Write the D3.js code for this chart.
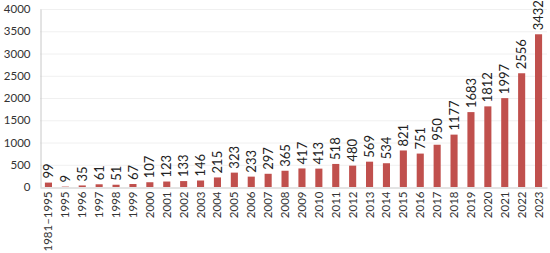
<!DOCTYPE html>
<html>
<head>
<meta charset="utf-8">
<script src="https://cdn.jsdelivr.net/npm/d3@7"></script>
<style>
  body { margin: 0; background: #fff; }
  text { font-family: Lato, "Open Sans", sans-serif; }
</style>
</head>
<body>
<svg id="chart"></svg>
<script>
// categories and counts
var years = ["1981–1995","1995","1996","1997","1998","1999","2000","2001","2002","2003",
  "2004","2005","2006","2007","2008","2009","2010","2011","2012","2013",
  "2014","2015","2016","2017","2018","2019","2020","2021","2022","2023"];
var counts = [99,9,35,61,51,67,107,123,133,146,
  215,323,233,297,365,417,413,518,480,569,
  534,821,751,950,1177,1683,1812,1997,2556,3432];
var yTicks = [0,500,1000,1500,2000,2500,3000,3500,4000];

var width = 550, height = 253;
var margin = {top: 9, right: 3, bottom: 66, left: 40};

var svg = d3.select("#chart").attr("width", width).attr("height", height);

var x = d3.scaleBand()
    .domain(years)
    .range([margin.left, width - margin.right])
    .paddingInner(0.58)
    .paddingOuter(0.29);

var y = d3.scaleLinear()
    .domain([0, 4000])
    .range([height - margin.bottom, margin.top]);

// faint gridlines
svg.append("g").selectAll("line")
    .data(yTicks.slice(1))
    .enter().append("line")
    .attr("x1", margin.left).attr("x2", width - margin.right)
    .attr("y1", function(d) { return y(d) + 0.5; })
    .attr("y2", function(d) { return y(d) + 0.5; })
    .attr("stroke", "#f0f0f0");

// y axis
var yAxis = svg.append("g")
    .attr("transform", "translate(" + (margin.left + 0.5) + ",0)")
    .call(d3.axisLeft(y).tickValues(yTicks).tickFormat(d3.format("d")).tickSize(0).tickPadding(10));
yAxis.select(".domain").attr("stroke", "#c8c8c8");
yAxis.selectAll("text").attr("font-size", 11.5).attr("fill", "#333");

// bars
svg.append("g").selectAll("rect")
    .data(counts)
    .enter().append("rect")
    .attr("x", function(d, i) { return x(years[i]); })
    .attr("width", x.bandwidth())
    .attr("y", function(d) { return y(d); })
    .attr("height", function(d) { return y(0) - y(d); })
    .attr("fill", "#c0504d");

// x axis
var xAxis = svg.append("g")
    .attr("transform", "translate(0," + (y(0) + 0.5) + ")")
    .call(d3.axisBottom(x).tickSize(0).tickPadding(0));
xAxis.select(".domain").attr("stroke", "#c8c8c8");
xAxis.selectAll("text")
    .attr("font-size", 11.5)
    .attr("fill", "#333")
    .attr("transform", "rotate(-90)")
    .attr("x", -4)
    .attr("y", 0)
    .attr("dy", "0.35em")
    .style("text-anchor", "end");

// value labels
svg.append("g").selectAll("text")
    .data(counts)
    .enter().append("text")
    .attr("transform", function(d, i) {
      return "translate(" + (x(years[i]) + x.bandwidth() / 2) + "," + (y(d) - 4) + ") rotate(-90)";
    })
    .attr("dy", "0.35em")
    .attr("font-size", 13)
    .attr("fill", "#222")
    .text(function(d) { return d; });
</script>
</body>
</html>
